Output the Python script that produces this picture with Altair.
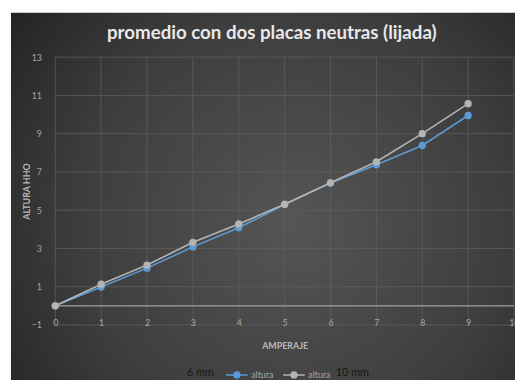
import altair as alt
import pandas as pd

amperaje = [0, 1, 2, 3, 4, 5, 6, 7, 8, 9]
altura_6mm = [0.0, 0.98, 1.97, 3.08, 4.08, 5.3, 6.42, 7.37, 8.38, 9.95]
altura_10mm = [0.0, 1.13, 2.13, 3.32, 4.28, 5.31, 6.43, 7.53, 9.0, 10.57]
series = ["altura 6 mm", "altura 10 mm"]
series_colors = ["#5b9bd5", "#b4b4b4"]
x_ticks = [0, 1, 2, 3, 4, 5, 6, 7, 8, 9, 10]
y_ticks = [-1, 1, 3, 5, 7, 9, 11, 13]

rows = []
for a, v in zip(amperaje, altura_6mm):
    rows.append({"AMPERAJE": a, "ALTURA": v, "serie": series[0]})
for a, v in zip(amperaje, altura_10mm):
    rows.append({"AMPERAJE": a, "ALTURA": v, "serie": series[1]})
df = pd.DataFrame(rows)

xscale = alt.Scale(domain=[0, 10], nice=False, zero=False)
yscale = alt.Scale(domain=[-1, 13], nice=False, zero=False)
FONT = "Lato"

one = pd.DataFrame({"k": [0]})

x_axis = alt.Axis(
    values=x_ticks, tickCount=30, format="d", title="AMPERAJE", grid=False,
    domain=False, ticks=False,
    labelPadding=-6, labelColor="#a6a6a6", labelFontSize=9, labelFont=FONT,
    titleColor="#b8b8b8", titleFontSize=9, titleFont=FONT, titleFontWeight="bold",
    titlePadding=14, zindex=1, labelFlush=False, labelOverlap=False,
)
y_axis = alt.Axis(
    values=y_ticks, tickCount=30, format="d", title="ALTURA HHO", grid=False,
    domain=False, ticks=False,
    labelPadding=14, labelColor="#a6a6a6", labelFontSize=9, labelFont=FONT,
    titleColor="#b8b8b8", titleFontSize=9, titleFont=FONT, titleFontWeight="bold",
    titlePadding=0, zindex=1, labelOverlap=False, labelFlush=False,
)

bg = alt.Chart(one).mark_rect(
    color={
        "gradient": "radial",
        "x1": 0.56, "y1": 0.55, "r1": 0,
        "x2": 0.56, "y2": 0.55, "r2": 0.78,
        "stops": [
            {"offset": 0, "color": "#555555"},
            {"offset": 0.55, "color": "#3d3d3d"},
            {"offset": 1, "color": "#1c1c1c"},
        ],
    }
).encode(
    x=alt.value(-45), x2=alt.value(467), y=alt.value(-45), y2=alt.value(333)
)

vgrid = alt.Chart(pd.DataFrame({"t": x_ticks})).mark_rule(
    color="#5e5e5e", strokeWidth=0.8
).encode(x=alt.X("t:Q", scale=xscale, axis=x_axis))

hgrid = alt.Chart(pd.DataFrame({"t": y_ticks})).mark_rule(
    color="#5e5e5e", strokeWidth=0.8
).encode(y=alt.Y("t:Q", scale=yscale, axis=y_axis))

zero_line = alt.Chart(one).mark_rule(color="#a0a0a0", strokeWidth=1.2).encode(
    y=alt.datum(0, scale=yscale)
)

color = alt.Color(
    "serie:N",
    scale=alt.Scale(domain=series, range=series_colors),
    legend=alt.Legend(
        orient="none",
        legendX=176,
        legendY=314,
        direction="horizontal",
        title=None,
        labelExpr="'altura'",
        symbolType="M-1.5,0L1.5,0M0.4,0A0.4,0.4,0,1,1,-0.4,0A0.4,0.4,0,1,1,0.4,0",
        symbolSize=213,
        symbolStrokeWidth=1.5,
        symbolOpacity=1,
        labelColor="#a6a6a6",
        labelFont=FONT,
        labelFontSize=9,
        labelOffset=6,
        columnPadding=6,
        padding=0,
    ),
)

x_enc = alt.X("AMPERAJE:Q", scale=xscale, axis=x_axis)
y_enc = alt.Y("ALTURA:Q", scale=yscale, axis=y_axis)

lines = alt.Chart(df).mark_line(strokeWidth=1.6).encode(
    x=x_enc, y=y_enc, color=color, order=alt.Order("AMPERAJE:Q")
)
points = alt.Chart(df).mark_point(filled=True, size=55, opacity=1).encode(
    x=x_enc, y=y_enc, color=color
)

lbl6 = alt.Chart(one).mark_text(
    text="6 mm", align="right", baseline="middle", fontSize=11, font=FONT, color="#151515"
).encode(x=alt.value(161), y=alt.value(321))
lbl10 = alt.Chart(one).mark_text(
    text="10 mm", align="left", baseline="middle", fontSize=11, font=FONT, color="#151515"
).encode(x=alt.value(285), y=alt.value(321))

chart = alt.layer(bg, vgrid, hgrid, zero_line, lines, points, lbl6, lbl10).properties(
    width=466,
    height=272,
    padding={"left": 48, "top": 47, "right": 1, "bottom": 53},
    autosize="none",
    title=alt.TitleParams(
        "promedio con dos placas neutras (lijada)",
        font=FONT, fontSize=19, fontWeight="bold", color="#e8e8e8",
        anchor="middle", dx=-13, offset=-31,
    ),
).configure_view(stroke=None).configure(background="white").configure_axis(
    labelOverlap=False, labelBound=False
)

chart.save("out.html", embed_options={"renderer": "svg", "actions": False})
